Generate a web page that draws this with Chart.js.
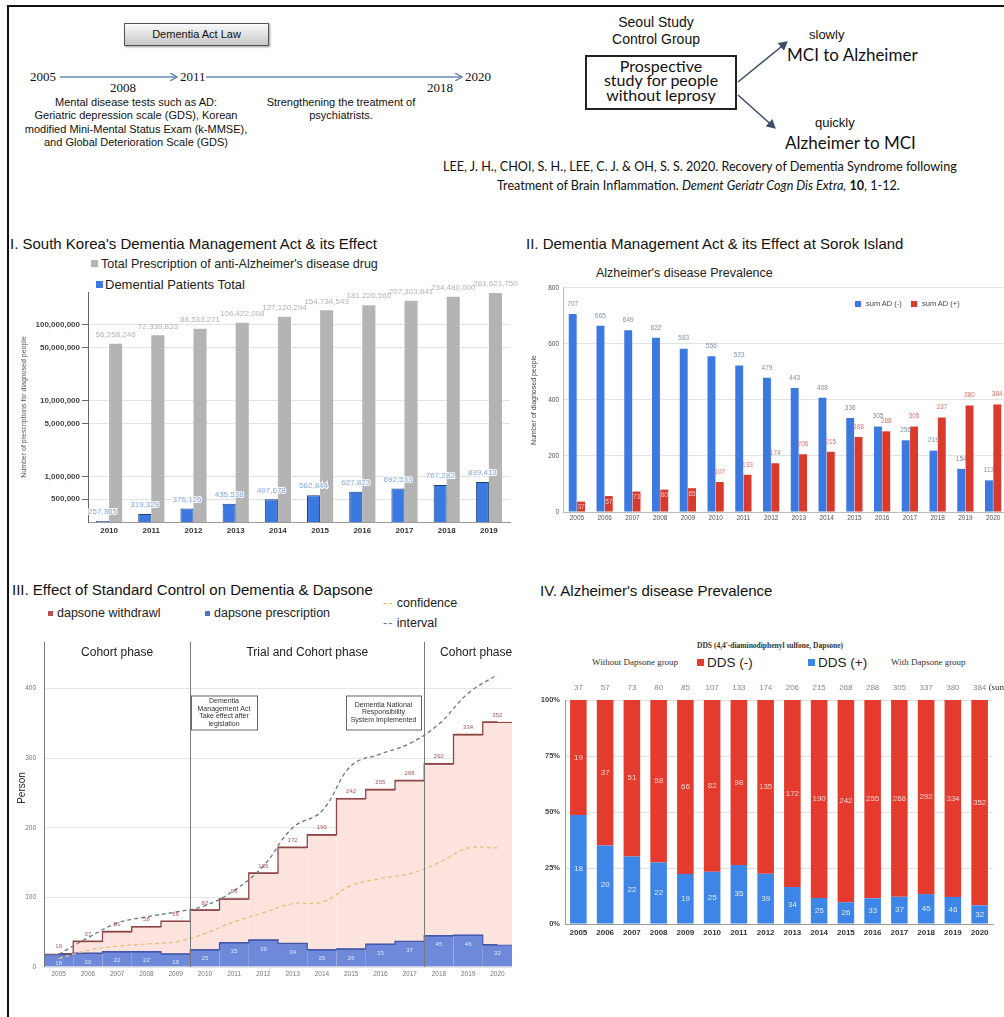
<!DOCTYPE html>
<html><head><meta charset="utf-8">
<script src="https://cdn.jsdelivr.net/npm/chart.js@4.4.1/dist/chart.umd.min.js"></script>
<style>
html,body{margin:0;padding:0;background:#fff;}
#page{position:relative;width:1004px;height:1017px;overflow:hidden;background:#fff;font-family:"Liberation Sans",Arial,sans-serif;color:#111;}
.t{position:absolute;white-space:nowrap;}
.serif{font-family:"Liberation Serif","DejaVu Serif",serif;}
.lato{font-family:Lato,"Open Sans",sans-serif;}
canvas{position:absolute;}
.sq{position:absolute;}
</style></head><body><div id="page">

<div style="position:absolute;left:7px;top:5px;width:1000px;height:1020px;border-left:2px solid #111;border-top:2px solid #111;"></div>

<!-- top-left timeline -->
<div class="t" style="left:124px;top:23px;width:143px;height:21px;border:1px solid #555;background:linear-gradient(#fbfbfb,#c6c6c6);box-shadow:1px 1px 2px #999;font-size:11px;line-height:21px;text-align:center;">Dementia Act Law</div>
<svg style="position:absolute;left:0;top:0" width="560" height="100">
  <defs><marker id="ah" markerWidth="8" markerHeight="8" refX="7" refY="4" orient="auto" markerUnits="userSpaceOnUse"><path d="M0,0 L7,4 L0,8" fill="none" stroke="#5b7fa8" stroke-width="1.3"/></marker></defs>
  <line x1="60" y1="77" x2="177" y2="77" stroke="#6b8db5" stroke-width="1.3" marker-end="url(#ah)"/>
  <line x1="206" y1="77" x2="462" y2="77" stroke="#6b8db5" stroke-width="1.3" marker-end="url(#ah)"/>
</svg>
<div class="t serif" style="left:30px;top:69px;font-size:13px;line-height:16px;">2005</div>
<div class="t serif" style="left:180px;top:69px;font-size:13px;line-height:16px;">2011</div>
<div class="t serif" style="left:465px;top:69px;font-size:13px;line-height:16px;">2020</div>
<div class="t serif" style="left:110px;top:80px;font-size:13px;line-height:16px;">2008</div>
<div class="t serif" style="left:427px;top:80px;font-size:13px;line-height:16px;">2018</div>
<div class="t" style="left:16px;top:96px;width:240px;text-align:center;font-size:11px;line-height:13.4px;">Mental disease tests such as AD:<br>Geriatric depression scale (GDS), Korean<br>modified Mini-Mental Status Exam (k-MMSE),<br>and Global Deterioration Scale (GDS)</div>
<div class="t" style="left:251px;top:96px;width:180px;text-align:center;font-size:11px;line-height:13.4px;">Strengthening the treatment of<br>psychiatrists.</div>

<!-- top-right -->
<div class="t" style="left:596px;top:14px;width:120px;text-align:center;font-size:14px;line-height:17px;">Seoul Study<br>Control Group</div>
<div class="t lato" style="left:585px;top:55px;width:148px;height:49px;border:2px solid #222;text-align:center;font-size:16px;line-height:14.3px;padding-top:2px;box-sizing:content-box;">Prospective<br>study for people<br>without leprosy</div>
<svg style="position:absolute;left:730px;top:30px" width="70" height="110">
  <defs><marker id="ah2" markerWidth="10" markerHeight="10" refX="8" refY="5" orient="auto" markerUnits="userSpaceOnUse"><path d="M0,0 L9,5 L0,10 z" fill="#3d4e6b"/></marker></defs>
  <line x1="8" y1="52" x2="57" y2="12" stroke="#3d4e6b" stroke-width="1.5" marker-end="url(#ah2)"/>
  <line x1="8" y1="65" x2="45" y2="98" stroke="#3d4e6b" stroke-width="1.5" marker-end="url(#ah2)"/>
</svg>
<div class="t" style="left:809px;top:27px;font-size:13px;line-height:16px;">slowly</div>
<div class="t lato" style="left:787px;top:45px;font-size:17px;line-height:20px;">MCI to Alzheimer</div>
<div class="t" style="left:815px;top:115px;font-size:13px;line-height:16px;">quickly</div>
<div class="t lato" style="left:785px;top:133px;font-size:17px;line-height:20px;">Alzheimer to MCI</div>
<div class="t lato" style="left:443px;top:159px;font-size:12.6px;line-height:16px;">LEE, J. H., CHOI, S. H., LEE, C. J. &amp; OH, S. S. 2020. Recovery of Dementia Syndrome following</div>
<div class="t lato" style="left:497px;top:178px;font-size:12.6px;line-height:16px;">Treatment of Brain Inflammation. <i>Dement Geriatr Cogn Dis Extra,</i> <b>10</b>, 1-12.</div>

<!-- Chart I -->
<div class="t" style="left:10px;top:235px;font-size:15px;line-height:18px;">I. South Korea's Dementia Management Act &amp; its Effect</div>
<div class="sq" style="left:91px;top:260px;width:7px;height:7px;background:#b4b4b4;"></div>
<div class="t" style="left:101px;top:256px;font-size:12.5px;line-height:16px;color:#222;">Total Prescription of anti-Alzheimer's disease drug</div>
<div class="sq" style="left:96px;top:281px;width:7px;height:7px;background:#3b78e0;"></div>
<div class="t" style="left:105px;top:277px;font-size:13px;line-height:16px;color:#222;">Demential Patients Total</div>
<canvas id="c1" width="508" height="260" style="left:10px;top:278px;"></canvas>

<!-- Chart II -->
<div class="t" style="left:526px;top:235px;font-size:15px;line-height:18px;">II. Dementia Management Act &amp; its Effect at Sorok Island</div>
<div class="t" style="left:596px;top:265px;font-size:12.5px;line-height:16px;color:#222;">Alzheimer's disease Prevalence</div>
<canvas id="c2" width="490" height="246" style="left:520px;top:280px;"></canvas>
<div class="sq" style="left:855px;top:301px;width:6px;height:6px;background:#3b78e0;"></div>
<div class="t" style="left:866px;top:299px;font-size:7.5px;line-height:10px;color:#444;">sum AD (-)</div>
<div class="sq" style="left:911px;top:301px;width:6px;height:6px;background:#d93a2b;"></div>
<div class="t" style="left:922px;top:299px;font-size:7.5px;line-height:10px;color:#444;">sum AD (+)</div>

<!-- Chart III -->
<div class="t" style="left:12px;top:581px;font-size:15px;line-height:18px;">III. Effect of Standard Control on Dementia &amp; Dapsone</div>
<div class="sq" style="left:48px;top:611px;width:5px;height:5px;background:#c0504d;"></div>
<div class="t" style="left:57px;top:605px;font-size:12.5px;line-height:16px;color:#222;">dapsone withdrawl</div>
<div class="sq" style="left:205px;top:611px;width:5px;height:5px;background:#4f72c4;"></div>
<div class="t" style="left:214px;top:605px;font-size:12.5px;line-height:16px;color:#222;">dapsone prescription</div>
<div class="t" style="left:383px;top:595px;font-size:12.5px;line-height:16px;color:#222;"><span style="color:#e3b95c;letter-spacing:1px;">--</span> confidence</div>
<div class="t" style="left:383px;top:615px;font-size:12.5px;line-height:16px;color:#222;"><span style="color:#5f7383;letter-spacing:1px;">--</span> interval</div>
<canvas id="c3" width="510" height="351" style="left:8px;top:630px;"></canvas>
<div class="t" style="left:2px;top:782px;width:40px;text-align:center;font-size:10px;line-height:12px;transform:rotate(-90deg);color:#222;">Person</div>

<!-- Chart IV -->
<div class="t" style="left:540px;top:582px;font-size:15px;line-height:18px;">IV. Alzheimer's disease Prevalence</div>
<div class="t serif" style="left:697px;top:641px;font-size:7.5px;line-height:10px;font-weight:bold;color:#333;">DDS (4,4'-diaminodiphenyl sulfone, Dapsone)</div>
<div class="t serif" style="left:592px;top:656px;font-size:9px;line-height:12px;color:#333;">Without Dapsone group</div>
<div class="sq" style="left:697px;top:659px;width:7px;height:7px;background:#e53b2f;"></div>
<div class="t" style="left:707px;top:655px;font-size:13.5px;line-height:16px;color:#222;">DDS (-)</div>
<div class="sq" style="left:808px;top:659px;width:7px;height:7px;background:#3d85e6;"></div>
<div class="t" style="left:818px;top:655px;font-size:13.5px;line-height:16px;color:#222;">DDS (+)</div>
<div class="t serif" style="left:891px;top:656px;font-size:9px;line-height:12px;color:#333;">With Dapsone group</div>
<canvas id="c4" width="484" height="266" style="left:520px;top:676px;"></canvas>

</div>
<script>
// ---------- DATA ----------
const yearsI = ['2010','2011','2012','2013','2014','2015','2016','2017','2018','2019'];
const prescriptions = [56258246,72339833,88533271,106422008,127120294,154734543,181226560,207303641,234480000,261621750];
const patients = [257365,319329,376126,435538,497678,562844,627823,692533,767282,839413];
const logTicksI = [500000,1000000,5000000,10000000,50000000,100000000];

const yearsII = ['2005','2006','2007','2008','2009','2010','2011','2012','2013','2014','2015','2016','2017','2018','2019','2020'];
const adNeg = [707,665,649,622,583,556,523,479,443,408,336,305,256,219,154,113];
const adPos = [37,57,73,80,85,107,133,174,206,215,268,288,305,337,380,384];

const yearsIII = yearsII;
const ddsNeg = [19,37,51,58,66,82,98,135,172,190,242,255,268,292,334,352];
const ddsPos = [18,20,22,22,19,25,35,39,34,25,26,33,37,45,46,32];
const intervalLine = [18,42,63,72,79,88,110,145,200,224,289,306,321,349,393,420];
const confidenceLine = [12,24,30,33,36,48,65,78,91,93,117,127,134,150,171,171];
const phases = ['Cohort phase','Trial and Cohort phase','Cohort phase'];

// ---------- SETUP ----------
Chart.defaults.font.family = "'Liberation Sans', Arial, sans-serif";
Chart.defaults.animation = false;
Chart.defaults.plugins.legend.display = false;
Chart.defaults.plugins.tooltip.enabled = false;
const fmt = v => Number(v).toLocaleString('en-US');

function txt(ctx, s, x, y, font, color, align, halo){
  ctx.save();
  ctx.font = font; ctx.textAlign = align || 'center'; ctx.textBaseline = 'middle';
  if (halo){ ctx.strokeStyle = halo; ctx.lineWidth = 2; ctx.strokeText(s, x, y); }
  ctx.fillStyle = color; ctx.fillText(s, x, y);
  ctx.restore();
}

// ---------- CHART I ----------
new Chart(document.getElementById('c1'), {
  type: 'bar',
  data: { labels: yearsI, datasets: [
    { data: patients, backgroundColor: '#3b78e0', borderColor: '#1c3f7a', borderWidth: 1, categoryPercentage: 0.62, barPercentage: 1 },
    { data: prescriptions, backgroundColor: '#b4b4b4', categoryPercentage: 0.62, barPercentage: 1 }
  ]},
  options: {
    responsive: false,
    layout: { padding: { top: 14, right: 8, left: 0, bottom: 0 } },
    scales: {
      x: { grid: { display: false, drawTicks: false }, border: { color: '#999' },
           ticks: { font: { size: 8, weight: 'bold' }, color: '#333', padding: 4 },
           afterFit: s => { s.height = 16; } },
      y: { type: 'logarithmic', min: 250000, max: 270000000,
           afterBuildTicks: s => { s.ticks = logTicksI.map(v => ({ value: v })); },
           grid: { color: '#e2e2e2', tickLength: 6, tickColor: '#666' }, border: { color: '#666' },
           ticks: { font: { size: 8, weight: 'bold' }, color: '#444', padding: 2, callback: v => fmt(v) },
           title: { display: true, text: 'Number of prescriptions for diagnosed people', font: { size: 7 }, color: '#555', padding: { top: 10, bottom: 0 } },
           afterFit: s => { s.width = 78; } }
    }
  },
  plugins: [{ id: 'lab1', afterDatasetsDraw(chart){
    const ctx = chart.ctx;
    chart.getDatasetMeta(0).data.forEach((b, i) => txt(ctx, fmt(patients[i]), b.x, b.y - 9, '8px "Liberation Sans"', '#86a7e2', 'center', 'rgba(255,255,255,0.9)'));
    chart.getDatasetMeta(1).data.forEach((b, i) => txt(ctx, fmt(prescriptions[i]), b.x, b.y - 9, '8px "Liberation Sans"', '#b3b3b3', 'center'));
  }}]
});

// ---------- CHART II ----------
new Chart(document.getElementById('c2'), {
  type: 'bar',
  data: { labels: yearsII, datasets: [
    { data: adNeg, backgroundColor: '#3b78e0', categoryPercentage: 0.6, barPercentage: 0.95 },
    { data: adPos, backgroundColor: '#d93a2b', categoryPercentage: 0.6, barPercentage: 0.95 }
  ]},
  options: {
    responsive: false,
    layout: { padding: { top: 7, right: 3, left: 0, bottom: 0 } },
    scales: {
      x: { grid: { display: false, drawTicks: false }, border: { color: '#bbb' },
           ticks: { font: { size: 6.5 }, color: '#555', padding: 2 },
           afterFit: s => { s.height = 14; } },
      y: { min: 0, max: 800, grid: { color: '#e2e2e2', drawTicks: false }, border: { color: '#bbb' },
           ticks: { stepSize: 200, font: { size: 6.5 }, color: '#555', padding: 4 },
           title: { display: true, text: 'Number of diagnosed people', font: { size: 7 }, color: '#444', padding: { top: 10, bottom: 0 } },
           afterFit: s => { s.width = 43; } }
    }
  },
  plugins: [{ id: 'lab2', afterDatasetsDraw(chart){
    const ctx = chart.ctx;
    chart.getDatasetMeta(0).data.forEach((b, i) => txt(ctx, String(adNeg[i]), b.x, b.y - 10, '6.5px "Liberation Sans"', '#7f8fa8', 'center'));
    chart.getDatasetMeta(1).data.forEach((b, i) => {
      if (adPos[i] < 100) txt(ctx, String(adPos[i]), b.x, b.y + 6, '6.5px "Liberation Sans"', '#f3c9c4', 'center');
      else txt(ctx, String(adPos[i]), b.x, b.y - 10, '6.5px "Liberation Sans"', '#d9736a', 'center');
    });
  }}]
});

// ---------- CHART III ----------
new Chart(document.getElementById('c3'), {
  type: 'bar',
  data: { labels: yearsIII, datasets: [
    { type: 'line', data: intervalLine, borderColor: '#6a7884', borderWidth: 1.3, borderDash: [4, 3], pointRadius: 0, tension: 0.4, order: 0 },
    { type: 'line', data: confidenceLine, borderColor: '#e6c07a', borderWidth: 1.3, borderDash: [4, 3], pointRadius: 0, tension: 0.4, order: 0 },
    { type: 'line', data: ddsPos, borderColor: '#4456a6', borderWidth: 1.2, stepped: 'middle', pointRadius: 0, order: 1 },
    { data: ddsPos, backgroundColor: '#6e88da', borderColor: '#4456a6', borderWidth: { top: 1.2, left: 0, right: 0, bottom: 0 }, grouped: false, categoryPercentage: 1, barPercentage: 1, order: 2 },
    { type: 'line', data: ddsNeg, borderColor: '#8e4646', borderWidth: 1.3, stepped: 'middle', pointRadius: 0, order: 3 },
    { data: ddsNeg, backgroundColor: '#fde3de', borderColor: '#8e4646', borderWidth: { top: 1.3, left: 0, right: 0, bottom: 0 }, grouped: false, categoryPercentage: 1, barPercentage: 1, order: 4 }
  ]},
  options: {
    responsive: false,
    layout: { padding: { top: 10, right: 6, left: 0, bottom: 0 } },
    scales: {
      x: { grid: { display: false, drawTicks: false }, border: { display: false },
           ticks: { font: { size: 6.5 }, color: '#777', padding: 3 },
           afterFit: s => { s.height = 14; } },
      y: { min: 0, max: 467, grid: { color: '#e6e6e6', drawTicks: false }, border: { display: false },
           afterBuildTicks: s => { s.ticks = s.ticks.filter(t => t.value % 100 === 0); },
           ticks: { stepSize: 100, font: { size: 6.5 }, color: '#777', padding: 8 },
           afterFit: s => { s.width = 36; } }
    }
  },
  plugins: [{ id: 'deco3', afterDatasetsDraw(chart){
    const ctx = chart.ctx, x = chart.scales.x, y = chart.scales.y, a = chart.chartArea;
    const d1 = (x.getPixelForValue(4) + x.getPixelForValue(5)) / 2;
    const d2 = (x.getPixelForValue(12) + x.getPixelForValue(13)) / 2;
    ctx.save();
    ctx.strokeStyle = '#7a7a7a'; ctx.lineWidth = 1;
    [a.left + 0.5, Math.round(d1) + 0.5, Math.round(d2) + 0.5].forEach(px => {
      ctx.beginPath(); ctx.moveTo(px, a.top); ctx.lineTo(px, a.bottom); ctx.stroke();
    });
    ctx.restore();
    const ty = a.top + 11;
    txt(ctx, phases[0], (a.left + d1) / 2, ty, '12px "Liberation Sans"', '#222');
    txt(ctx, phases[1], (d1 + d2) / 2, ty, '12px "Liberation Sans"', '#222');
    txt(ctx, phases[2], (d2 + a.right) / 2 + 8, ty, '12px "Liberation Sans"', '#222');
    function box(left, width, lines){
      const top = y.getPixelForValue(390), h = 34;
      ctx.save(); ctx.fillStyle = '#fff'; ctx.fillRect(left, top, width, h);
      ctx.strokeStyle = '#666'; ctx.lineWidth = 1; ctx.strokeRect(left + 0.5, top + 0.5, width, h);
      ctx.restore();
      const lh = 7.6, start = top + h / 2 - (lines.length - 1) * lh / 2;
      lines.forEach((l, k) => txt(ctx, l, left + width / 2, start + k * lh, '7px "Liberation Sans"', '#333'));
    }
    box(Math.round(d1) + 1, 66, ['Dementia', 'Management Act', 'Take effect after', 'legislation']);
    box(Math.round(d2) - 78, 75, ['Dementia National', 'Responsibility', 'System Implemented']);
    chart.getDatasetMeta(5).data.forEach((b, i) => txt(ctx, String(ddsNeg[i]), b.x, b.y - 7, '6px "Liberation Sans"', '#a55a5a'));
    chart.getDatasetMeta(3).data.forEach((b, i) => txt(ctx, String(ddsPos[i]), b.x, b.y + 9, '6px "Liberation Sans"', '#dfe6ff'));
  }}]
});

// ---------- CHART IV ----------
const totalsIV = ddsNeg.map((v, i) => v + ddsPos[i]);
const pctPos = ddsPos.map((v, i) => v / totalsIV[i] * 100);
const pctNeg = ddsNeg.map((v, i) => v / totalsIV[i] * 100);
new Chart(document.getElementById('c4'), {
  type: 'bar',
  data: { labels: yearsII, datasets: [
    { data: pctPos, backgroundColor: '#3d85e6', categoryPercentage: 0.62, barPercentage: 1 },
    { data: pctNeg, backgroundColor: '#e53b2f', categoryPercentage: 0.62, barPercentage: 1 }
  ]},
  options: {
    responsive: false,
    layout: { padding: { top: 24, right: 11, left: 0, bottom: 0 } },
    scales: {
      x: { stacked: true, grid: { display: false, drawTicks: false }, border: { color: '#999' },
           ticks: { font: { size: 8, weight: 'bold' }, color: '#333', padding: 4 },
           afterFit: s => { s.height = 18; } },
      y: { stacked: true, min: 0, max: 100, grid: { color: '#e0e0e0', drawTicks: false }, border: { color: '#999' },
           ticks: { stepSize: 25, font: { size: 7.5, weight: 'bold' }, color: '#444', padding: 5, callback: v => v + '%' },
           afterFit: s => { s.width = 45; } }
    }
  },
  plugins: [{ id: 'lab4', afterDatasetsDraw(chart){
    const ctx = chart.ctx, a = chart.chartArea;
    const mp = chart.getDatasetMeta(0).data, mn = chart.getDatasetMeta(1).data;
    mp.forEach((b, i) => txt(ctx, String(ddsPos[i]), b.x, (b.y + b.base) / 2, '8px "Liberation Sans"', '#e3ecfb'));
    mn.forEach((b, i) => txt(ctx, String(ddsNeg[i]), b.x, (b.y + b.base) / 2, '8px "Liberation Sans"', '#f7d3cf'));
    mn.forEach((b, i) => txt(ctx, String(totalsIV[i]), b.x, a.top - 12, '8px "Liberation Sans"', '#8a8a8a'));
    const last = mn[mn.length - 1];
    txt(ctx, '(sum', last.x + 9, a.top - 12, '9px "Liberation Serif"', '#333', 'left');
  }}]
});
</script>
</body></html>
